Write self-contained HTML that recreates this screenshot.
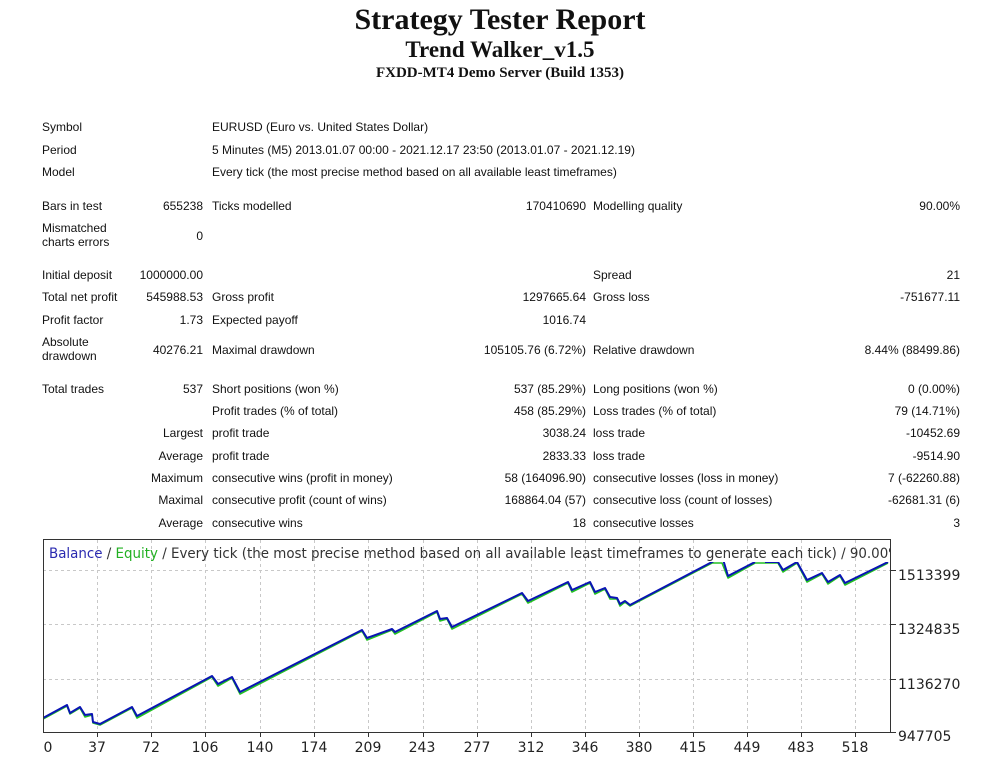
<!DOCTYPE html>
<html><head><meta charset="utf-8"><style>
body{margin:0;width:1000px;height:765px;background:#fff;position:relative;overflow:hidden;font-family:"Liberation Sans",sans-serif;color:#111}
.t{position:absolute;font-family:"Liberation Serif",serif;font-weight:bold;text-align:center;width:1000px;left:0;white-space:nowrap}
.a{position:absolute;font-size:12px;white-space:nowrap;line-height:14px}
.r{text-align:right}
</style></head><body>
<div class="t" style="top:3px;font-size:30px">Strategy Tester Report</div>
<div class="t" style="top:37px;font-size:23px">Trend Walker_v1.5</div>
<div class="t" style="top:65px;font-size:15px">FXDD-MT4 Demo Server (Build 1353)</div>

<div class="a" style="left:42px;top:120px">Symbol</div><div class="a" style="left:212px;top:120px">EURUSD (Euro vs. United States Dollar)</div>
<div class="a" style="left:42px;top:143px">Period</div><div class="a" style="left:212px;top:143px">5 Minutes (M5) 2013.01.07 00:00 - 2021.12.17 23:50 (2013.01.07 - 2021.12.19)</div>
<div class="a" style="left:42px;top:165px">Model</div><div class="a" style="left:212px;top:165px">Every tick (the most precise method based on all available least timeframes)</div>

<div class="a" style="left:42px;top:199px">Bars in test</div><div class="a r" style="right:797px;top:199px">655238</div><div class="a" style="left:212px;top:199px">Ticks modelled</div><div class="a r" style="right:414px;top:199px">170410690</div><div class="a" style="left:593px;top:199px">Modelling quality</div><div class="a r" style="right:40px;top:199px">90.00%</div>
<div class="a" style="left:42px;top:221px">Mismatched<br>charts errors</div><div class="a r" style="right:797px;top:229px">0</div>

<div class="a" style="left:42px;top:268px">Initial deposit</div><div class="a r" style="right:797px;top:268px">1000000.00</div><div class="a" style="left:593px;top:268px">Spread</div><div class="a r" style="right:40px;top:268px">21</div>
<div class="a" style="left:42px;top:290px">Total net profit</div><div class="a r" style="right:797px;top:290px">545988.53</div><div class="a" style="left:212px;top:290px">Gross profit</div><div class="a r" style="right:414px;top:290px">1297665.64</div><div class="a" style="left:593px;top:290px">Gross loss</div><div class="a r" style="right:40px;top:290px">-751677.11</div>
<div class="a" style="left:42px;top:313px">Profit factor</div><div class="a r" style="right:797px;top:313px">1.73</div><div class="a" style="left:212px;top:313px">Expected payoff</div><div class="a r" style="right:414px;top:313px">1016.74</div>
<div class="a" style="left:42px;top:335px">Absolute<br>drawdown</div><div class="a r" style="right:797px;top:343px">40276.21</div><div class="a" style="left:212px;top:343px">Maximal drawdown</div><div class="a r" style="right:414px;top:343px">105105.76 (6.72%)</div><div class="a" style="left:593px;top:343px">Relative drawdown</div><div class="a r" style="right:40px;top:343px">8.44% (88499.86)</div>

<div class="a" style="left:42px;top:382px">Total trades</div><div class="a r" style="right:797px;top:382px">537</div><div class="a" style="left:212px;top:382px">Short positions (won %)</div><div class="a r" style="right:414px;top:382px">537 (85.29%)</div><div class="a" style="left:593px;top:382px">Long positions (won %)</div><div class="a r" style="right:40px;top:382px">0 (0.00%)</div>
<div class="a" style="left:212px;top:404px">Profit trades (% of total)</div><div class="a r" style="right:414px;top:404px">458 (85.29%)</div><div class="a" style="left:593px;top:404px">Loss trades (% of total)</div><div class="a r" style="right:40px;top:404px">79 (14.71%)</div>
<div class="a r" style="right:797px;top:426px">Largest</div><div class="a" style="left:212px;top:426px">profit trade</div><div class="a r" style="right:414px;top:426px">3038.24</div><div class="a" style="left:593px;top:426px">loss trade</div><div class="a r" style="right:40px;top:426px">-10452.69</div>
<div class="a r" style="right:797px;top:449px">Average</div><div class="a" style="left:212px;top:449px">profit trade</div><div class="a r" style="right:414px;top:449px">2833.33</div><div class="a" style="left:593px;top:449px">loss trade</div><div class="a r" style="right:40px;top:449px">-9514.90</div>
<div class="a r" style="right:797px;top:471px">Maximum</div><div class="a" style="left:212px;top:471px">consecutive wins (profit in money)</div><div class="a r" style="right:414px;top:471px">58 (164096.90)</div><div class="a" style="left:593px;top:471px">consecutive losses (loss in money)</div><div class="a r" style="right:40px;top:471px">7 (-62260.88)</div>
<div class="a r" style="right:797px;top:493px">Maximal</div><div class="a" style="left:212px;top:493px">consecutive profit (count of wins)</div><div class="a r" style="right:414px;top:493px">168864.04 (57)</div><div class="a" style="left:593px;top:493px">consecutive loss (count of losses)</div><div class="a r" style="right:40px;top:493px">-62681.31 (6)</div>
<div class="a r" style="right:797px;top:516px">Average</div><div class="a" style="left:212px;top:516px">consecutive wins</div><div class="a r" style="right:414px;top:516px">18</div><div class="a" style="left:593px;top:516px">consecutive losses</div><div class="a r" style="right:40px;top:516px">3</div>

<svg style="position:absolute;left:0;top:0" width="1000" height="765">
<defs><clipPath id="c"><rect x="43" y="562" width="848" height="171"/></clipPath></defs>
<g stroke="#c8c8c8" stroke-dasharray="3,3" stroke-width="1">
<line x1="43" y1="570.5" x2="891" y2="570.5"/><line x1="43" y1="624.5" x2="891" y2="624.5"/><line x1="43" y1="679.5" x2="891" y2="679.5"/>
<line x1="97.5" y1="540" x2="97.5" y2="733"/><line x1="151.5" y1="540" x2="151.5" y2="733"/><line x1="205.5" y1="540" x2="205.5" y2="733"/><line x1="260.5" y1="540" x2="260.5" y2="733"/><line x1="314.5" y1="540" x2="314.5" y2="733"/><line x1="368.5" y1="540" x2="368.5" y2="733"/><line x1="423.5" y1="540" x2="423.5" y2="733"/><line x1="477.5" y1="540" x2="477.5" y2="733"/><line x1="531.5" y1="540" x2="531.5" y2="733"/><line x1="585.5" y1="540" x2="585.5" y2="733"/><line x1="639.5" y1="540" x2="639.5" y2="733"/><line x1="693.5" y1="540" x2="693.5" y2="733"/><line x1="747.5" y1="540" x2="747.5" y2="733"/><line x1="801.5" y1="540" x2="801.5" y2="733"/><line x1="855.5" y1="540" x2="855.5" y2="733"/>
</g>
<g clip-path="url(#c)" fill="none" stroke-linejoin="round">
<polyline stroke="#22c022" stroke-width="1.6" transform="translate(0,1)" points="43,718 67,705 70,713 80,707 85,716 92,714 93,722 100,724 132,707 137,717 212,676 218,685 232,677 240,693 362,630 367,639 392,629 395,633 437,611 440,620 447,618 452,628 522,593 528,602 568,582 572,591 590,582 595,593 605,588 610,598 617,598 620,605 625,601 630,605 712,562 722,562 728,577 755,562 765,562 778,562 783,571 797,562 807,581 822,573 828,583 840,575 845,584 888,562"/>
<polyline stroke="#0a14b4" stroke-width="2" points="43,718 67,705 70,713 80,707 85,715 92,714 93,722 100,724 132,707 137,716 212,676 218,684 232,677 240,692 362,630 367,638 392,629 395,632 437,611 440,619 447,618 452,627 522,593 528,601 568,582 572,590 590,582 595,592 605,588 610,597 617,598 620,604 625,601 630,605 712,562 722,556 728,576 755,562"/>
<polyline stroke="#0a14b4" stroke-width="2" points="765,562 778,562 783,570 797,562 807,580 822,573 828,582 840,575 845,583 888,562"/>
</g>
<rect x="43.5" y="539.5" width="847" height="193" fill="none" stroke="#333" stroke-width="1"/>
<g stroke="#333"><line x1="891" y1="570.5" x2="896" y2="570.5"/><line x1="891" y1="624.5" x2="896" y2="624.5"/><line x1="891" y1="679.5" x2="896" y2="679.5"/><line x1="891" y1="732.5" x2="896" y2="732.5"/>
<line x1="97.5" y1="733" x2="97.5" y2="737"/><line x1="151.5" y1="733" x2="151.5" y2="737"/><line x1="205.5" y1="733" x2="205.5" y2="737"/><line x1="260.5" y1="733" x2="260.5" y2="737"/><line x1="314.5" y1="733" x2="314.5" y2="737"/><line x1="368.5" y1="733" x2="368.5" y2="737"/><line x1="423.5" y1="733" x2="423.5" y2="737"/><line x1="477.5" y1="733" x2="477.5" y2="737"/><line x1="531.5" y1="733" x2="531.5" y2="737"/><line x1="585.5" y1="733" x2="585.5" y2="737"/><line x1="639.5" y1="733" x2="639.5" y2="737"/><line x1="693.5" y1="733" x2="693.5" y2="737"/><line x1="747.5" y1="733" x2="747.5" y2="737"/><line x1="801.5" y1="733" x2="801.5" y2="737"/><line x1="855.5" y1="733" x2="855.5" y2="737"/></g>
<svg x="44" y="540" width="846" height="24"><text x="5" y="18" font-family="DejaVu Sans,sans-serif" font-size="14" textLength="852" lengthAdjust="spacingAndGlyphs" fill="#333"><tspan fill="#2a2ab0">Balance</tspan> / <tspan fill="#22b022">Equity</tspan> / Every tick (the most precise method based on all available least timeframes to generate each tick) / 90.00%</text></svg>
<g font-family="DejaVu Sans,sans-serif" font-size="14" fill="#222">
<text x="898" y="580">1513399</text><text x="898" y="634">1324835</text><text x="898" y="689">1136270</text><text x="898" y="741">947705</text>
<g text-anchor="middle"><text x="48" y="752">0</text><text x="97" y="752">37</text><text x="151" y="752">72</text><text x="205" y="752">106</text><text x="260" y="752">140</text><text x="314" y="752">174</text><text x="368" y="752">209</text><text x="422" y="752">243</text><text x="477" y="752">277</text><text x="531" y="752">312</text><text x="585" y="752">346</text><text x="639" y="752">380</text><text x="693" y="752">415</text><text x="747" y="752">449</text><text x="801" y="752">483</text><text x="855" y="752">518</text></g>
</g>
</svg>
</body></html>
